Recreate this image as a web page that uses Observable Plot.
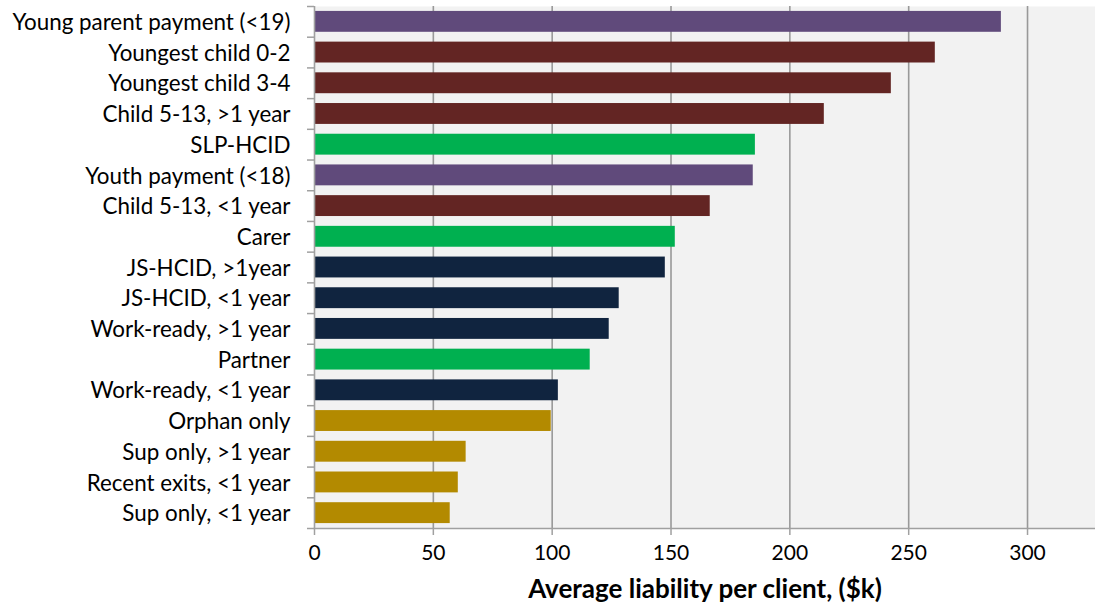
<!DOCTYPE html>
<html><head><meta charset="utf-8">
<script src="https://cdn.jsdelivr.net/npm/d3@7"></script>
<script src="https://cdn.jsdelivr.net/npm/@observablehq/plot@0.6"></script>
<style>body{margin:0;background:#fff} svg{display:block}</style>
</head><body><div id="chart"></div>
<script>
const categories = ["Young parent payment (<19)","Youngest child 0-2","Youngest child 3-4","Child 5-13, >1 year","SLP-HCID","Youth payment (<18)","Child 5-13, <1 year","Carer","JS-HCID, >1year","JS-HCID, <1 year","Work-ready, >1 year","Partner","Work-ready, <1 year","Orphan only","Sup only, >1 year","Recent exits, <1 year","Sup only, <1 year"];
const values = [289.0, 261.2, 242.7, 214.5, 185.5, 184.6, 166.5, 151.8, 147.6, 128.2, 124.0, 116.0, 102.6, 99.6, 63.8, 60.5, 57.1];
const groups = ["Youth","Parent","Parent","Parent","Supported","Youth","Parent","Supported","Jobseeker","Jobseeker","Jobseeker","Supported","Jobseeker","Other","Other","Other","Other"];
const groupNames = ["Youth","Parent","Supported","Jobseeker","Other"];
const groupColors = ["#604a7b","#632523","#00b050","#10243f","#b38a00"];
const xTicks = [0,50,100,150,200,250,300];
const xTitle = "Average liability per client, ($k)";

const data = categories.map((c,i)=>({category:c, value:values[i], group:groups[i]}));
const W=1095, H=608, mTop=6, mBottom=80;
const step = (H-mTop-mBottom)/categories.length;
const axisGray = "#a0a0a0";

const chart = Plot.plot({
  width:W, height:H, marginLeft:314, marginRight:0, marginTop:mTop, marginBottom:mBottom,
  style:{fontFamily:"Lato, sans-serif", fontSize:"21px", color:"#000", background:"#fff"},
  x:{domain:[0,328.6]},
  y:{domain:categories, paddingInner:0.32, paddingOuter:0.16, round:false},
  color:{domain:groupNames, range:groupColors},
  marks:[
    Plot.frame({fill:"#f2f2f2", stroke:null}),
    Plot.gridX(xTicks.filter(d=>d>0), {stroke:"#999999", strokeOpacity:1, strokeWidth:1.6}),
    Plot.barX(data,{x:"value", y:"category", fill:"group"}),
    Plot.ruleX([0], {stroke:axisGray, strokeWidth:1.6}),
    Plot.frame({anchor:"bottom", stroke:axisGray, strokeWidth:1.6}),
    Plot.axisX(xTicks, {tickSize:7, tickPadding:10, stroke:axisGray, strokeWidth:1.5, fill:"#000", fontSize:21, label:null}),
    Plot.axisY(categories, {tickSize:7, tickFormat:()=>"", dy:-step/2, stroke:axisGray, strokeWidth:1.5, label:null}),
    Plot.axisY([categories[categories.length-1]], {tickSize:7, tickFormat:()=>"", dy:step/2, stroke:axisGray, strokeWidth:1.5, label:null}),
    Plot.axisY(categories, {tickSize:0, tickPadding:24, fill:"#000", fontSize:22.4, dy:1, label:null}),
    Plot.text([xTitle], {frameAnchor:"bottom", dy:69, fontWeight:"bold", fontSize:26, fill:"#000"})
  ]
});
document.getElementById("chart").append(chart);
</script>
</body></html>
